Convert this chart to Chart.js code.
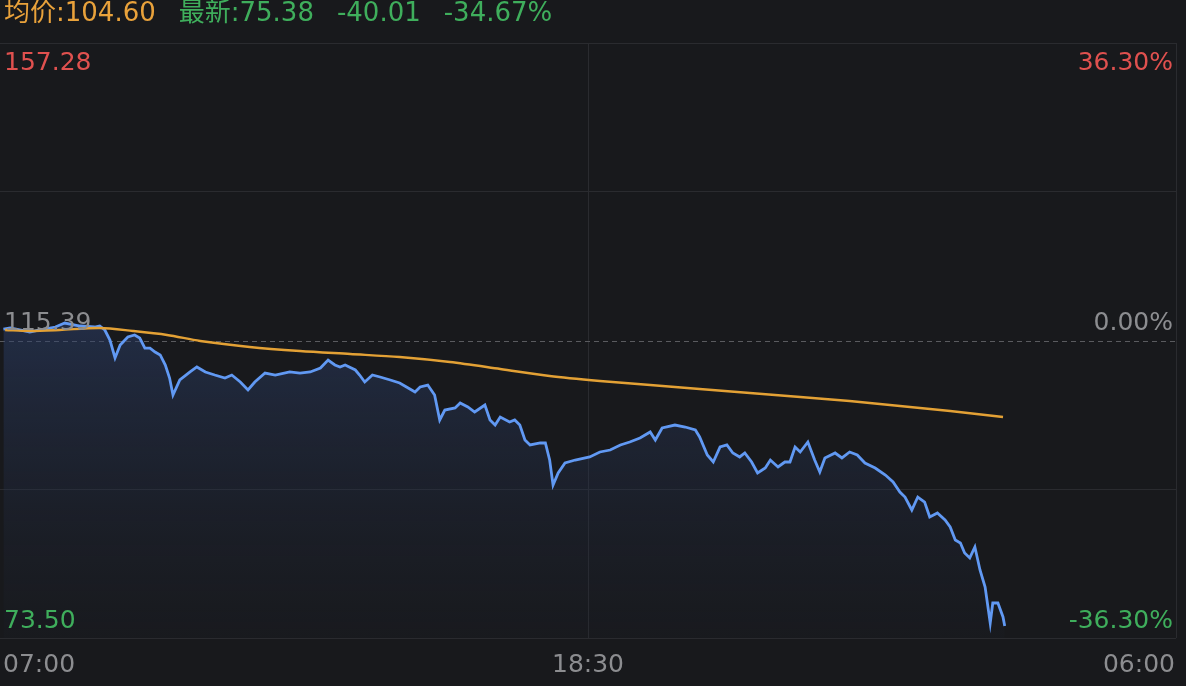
<!DOCTYPE html>
<html>
<head>
<meta charset="utf-8">
<script src="https://cdn.jsdelivr.net/npm/chart.js@4/dist/chart.umd.min.js"></script>
<style>
  html, body { margin: 0; padding: 0; background: #18191c; }
  #wrap { width: 1186px; height: 686px; position: relative; }
</style>
</head>
<body>
<div id="wrap"><canvas id="chart1"></canvas></div>
<script>
// 분 단위 시간 (07:00 기준), 가격
const minutes = [4,12,23,35,47,65,76,94,111,117,123,129,135,141,150,158,164,170,176,182,188,194,199,203,211,223,231,241,252,264,272,282,291,299,311,323,340,352,364,376,385,393,399,405,417,422,428,437,446,458,469,479,487,493,502,510,516,522,534,540,549,557,569,575,581,587,598,604,610,616,622,634,640,645,649,655,663,675,692,704,716,728,739,751,763,769,777,792,804,816,821,830,837,845,853,860,868,874,882,889,898,904,913,921,927,933,939,948,956,962,968,980,988,997,1006,1015,1027,1039,1048,1056,1062,1070,1077,1085,1091,1100,1109,1115,1121,1127,1132,1138,1144,1150,1156,1162,1165,1171,1177,1179];
const prices = [117.0,117.15,116.87,116.59,116.87,117.29,117.85,117.43,117.29,117.43,116.87,115.46,112.93,114.76,115.88,116.17,115.74,114.33,114.33,113.77,113.35,111.94,110.11,107.72,109.83,110.96,111.66,110.96,110.53,110.11,110.53,109.55,108.42,109.55,110.81,110.53,110.96,110.81,110.96,111.52,112.64,111.94,111.66,111.94,111.24,110.53,109.55,110.53,110.25,109.83,109.41,108.70,108.14,108.84,109.12,107.72,104.20,105.60,105.89,106.59,106.03,105.32,106.31,104.2,103.49,104.62,103.91,104.20,103.49,101.38,100.68,100.96,100.96,98.56,95.04,96.73,98.14,98.56,98.99,99.69,99.97,100.68,101.10,101.66,102.51,101.38,103.07,103.49,103.21,102.79,101.80,99.27,98.28,100.39,100.68,99.55,98.99,99.55,98.28,96.73,97.44,98.56,97.58,98.28,98.28,100.39,99.69,101.10,98.56,96.87,98.85,99.55,98.85,99.69,99.27,98.14,97.44,96.45,95.47,94.06,93.35,91.52,93.35,92.65,90.54,91.10,90.12,89.13,87.30,86.88,85.47,84.77,86.31,83.08,80.68,75.61,78.43,78.43,76.46,75.2];

// 균가
const avgMinutes = [6,35,70,117,156,196,235,293,352,411,469,528,587,645,704,763,821,880,939,997,1056,1115,1177];
const avgPrices = [116.87,116.73,116.87,117.15,116.73,116.17,115.32,114.48,113.91,113.49,113.07,112.36,111.38,110.39,109.69,109.12,108.56,108.00,107.44,106.87,106.17,105.46,104.62];

const maxPrice = 157.28;
const basePrice = 115.39;
const minPrice = 73.50;
const leftLabels = ['157.28', '115.39', '73.50'];
const rightLabels = ['36.30%', '0.00%', '-36.30%'];
const timeLabels = ['07:00', '18:30', '06:00'];
const totalMinutes = 1380;

const header = [
  { text: '均价:104.60', color: '#e9a23b' },
  { text: '最新:75.38', color: '#3fae5c' },
  { text: '-40.01', color: '#3fae5c' },
  { text: '-34.67%', color: '#3fae5c' }
];

const FONT = '"DejaVu Sans", "Noto Sans CJK SC", sans-serif';

// 텍스트, 점선 그리기
const textPlugin = {
  id: 'textPlugin',
  beforeDatasetsDraw(chart) {
    const ctx = chart.ctx;
    const y = chart.scales.y;
    const a = chart.chartArea;
    const yb = Math.round(y.getPixelForValue(basePrice)) + 0.5;
    ctx.save();
    ctx.strokeStyle = '#5a5b5f';
    ctx.lineWidth = 1;
    ctx.setLineDash([5, 4]);
    ctx.beginPath();
    ctx.moveTo(a.left, yb);
    ctx.lineTo(a.right, yb);
    ctx.stroke();
    ctx.restore();
  },
  afterDatasetsDraw(chart) {
    const ctx = chart.ctx;
    const y = chart.scales.y;
    const x = chart.scales.x;
    const a = chart.chartArea;
    ctx.save();
    ctx.font = '25px ' + FONT;
    ctx.textBaseline = 'middle';
    const colors = ['#e0514f', '#8c8d90', '#3fae5c'];
    const ys = [a.top + 20, y.getPixelForValue(basePrice) - 17, a.bottom - 17];
    for (let i = 0; i < 3; i++) {
      ctx.fillStyle = colors[i];
      ctx.textAlign = 'left';
      ctx.fillText(leftLabels[i], a.left + 4, ys[i]);
      ctx.textAlign = 'right';
      ctx.fillText(rightLabels[i], a.right - 3, ys[i]);
    }
    // 시간 라벨
    ctx.fillStyle = '#8c8d90';
    const ty = a.bottom + 27;
    ctx.textAlign = 'left';
    ctx.fillText(timeLabels[0], x.getPixelForValue(0) + 3, ty);
    ctx.textAlign = 'center';
    ctx.fillText(timeLabels[1], x.getPixelForValue(totalMinutes / 2), ty);
    ctx.textAlign = 'right';
    ctx.fillText(timeLabels[2], x.getPixelForValue(totalMinutes) - 1, ty);
    // 헤더
    ctx.font = '26px ' + FONT;
    ctx.textAlign = 'left';
    let hx = 4;
    header.forEach(function (h) {
      ctx.fillStyle = h.color;
      ctx.fillText(h.text, hx, 14);
      hx += ctx.measureText(h.text).width + 23;
    });
    ctx.restore();
  }
};

const data = {
  datasets: [{
    label: '均价',
    data: avgMinutes.map((m, i) => ({ x: m, y: avgPrices[i] })),
    borderColor: '#e3a135',
    borderWidth: 2.4,
    pointRadius: 0,
    tension: 0.3,
    fill: false
  }, {
    label: '最新',
    data: minutes.map((m, i) => ({ x: m, y: prices[i] })),
    borderColor: '#6199f3',
    borderWidth: 2.8,
    pointRadius: 0,
    tension: 0,
    fill: 'start',
    backgroundColor: function (context) {
      const ca = context.chart.chartArea;
      if (!ca) return 'rgba(40,55,85,0.4)';
      const g = context.chart.ctx.createLinearGradient(0, ca.top + 280, 0, ca.bottom);
      g.addColorStop(0, 'rgba(45,65,110,0.5)');
      g.addColorStop(1, 'rgba(30,35,48,0.15)');
      return g;
    }
  }]
};

const config = {
  type: 'line',
  data: data,
  options: {
    responsive: true,
    maintainAspectRatio: false,
    animation: false,
    layout: { padding: { top: 43, bottom: 48, left: 0, right: 10 } },
    plugins: { legend: { display: false }, tooltip: { enabled: false } },
    scales: {
      x: {
        type: 'linear',
        min: 0,
        max: totalMinutes,
        afterBuildTicks: function (axis) {
          axis.ticks = [{ value: 0 }, { value: totalMinutes / 2 }, { value: totalMinutes }];
        },
        ticks: { display: false },
        grid: {
          drawTicks: false,
          color: function (c) {
            return c.index === 0 ? 'rgba(0,0,0,0)' : '#2a2b2f';
          }
        },
        border: { display: false }
      },
      y: {
        min: minPrice,
        max: maxPrice,
        afterBuildTicks: function (axis) {
          const step = (maxPrice - minPrice) / 4;
          axis.ticks = [0, 1, 2, 3, 4].map(i => ({ value: minPrice + step * i }));
        },
        ticks: { display: false },
        grid: {
          drawTicks: false,
          color: function (c) {
            return c.index === 2 ? 'rgba(0,0,0,0)' : '#2a2b2f';
          }
        },
        border: { display: false }
      }
    }
  },
  plugins: [textPlugin]
};

const myChart = new Chart(document.getElementById('chart1'), config);
</script>
</body>
</html>
